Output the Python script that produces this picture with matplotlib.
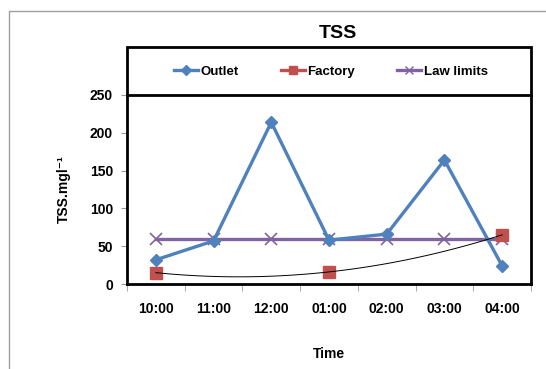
import matplotlib
matplotlib.use("Agg")
import matplotlib.pyplot as plt
from matplotlib.patches import Rectangle
from matplotlib.lines import Line2D
import numpy as np
from matplotlib import font_manager

# sampling times and TSS readings (mg/l)
times = ["10:00", "11:00", "12:00", "01:00", "02:00", "03:00", "04:00"]
outlet = [32, 57, 214, 58, 66, 164, 24]
factory_idx = [0, 3, 6]
factory = [15, 16, 65]
law_limits = [60, 60, 60, 60, 60, 60, 60]

names = {f.name for f in font_manager.fontManager.ttflist}
FONT = "Liberation Sans Narrow" if "Liberation Sans Narrow" in names else "Liberation Sans"
plt.rcParams["font.family"] = [FONT, "DejaVu Sans"]
plt.rcParams["font.weight"] = "bold"
plt.rcParams["axes.labelweight"] = "bold"

C_OUT = "#4F81BD"
C_FAC = "#C0504D"
C_LAW = "#8064A2"

W, H = 546, 369
fig = plt.figure(figsize=(W / 100, H / 100), dpi=100)
ax = fig.add_axes([127 / W, 1 - 284 / H, (531 - 127) / W, (284 - 95) / H])

x = np.arange(len(times))
ax.plot(x, law_limits, color=C_LAW, lw=2.4, marker="x", ms=8, mew=1.2, zorder=3)
ax.plot(x, outlet, color=C_OUT, lw=2.4, marker="D", ms=6, zorder=4)
ax.plot(factory_idx, factory, ls="none", color=C_FAC, marker="s", ms=8, zorder=5)

# second-order trendline through the factory readings
coef = np.polyfit(factory_idx, factory, 2)
xs = np.linspace(factory_idx[0], factory_idx[-1], 100)
ax.plot(xs, np.polyval(coef, xs), color="black", lw=0.7, zorder=6)

ax.set_xlim(-0.5, len(times) - 0.5)
ax.set_ylim(0, 250)
ax.set_yticks([0, 50, 100, 150, 200, 250])
ax.set_xticks(x)
ax.set_xticklabels(times)
ax.set_xticks(np.arange(-0.5, len(times)), minor=True)
ax.tick_params(axis="x", which="major", length=0, pad=13, labelsize=10)
ax.tick_params(axis="x", which="minor", length=5, color="#999999", direction="out")
ax.tick_params(axis="y", length=4, color="#999999", labelsize=10, pad=6)
for s in ("left", "bottom", "right"):
    ax.spines[s].set_linewidth(2)
ax.spines["top"].set_visible(False)

ax.set_xlabel("Time", fontsize=10, labelpad=22)
ax.set_ylabel("TSS.mgl\u207b\u00b9", fontsize=10, labelpad=14)

# legend box sitting on top of the plot area
fig.patches.append(Rectangle((127 / W, 1 - 95 / H), (531 - 127) / W, 48 / H,
                             transform=fig.transFigure, fill=False,
                             edgecolor="black", lw=2))
handles = [
    Line2D([], [], color=C_OUT, lw=2.4, marker="D", ms=5),
    Line2D([], [], color=C_FAC, lw=2.4, marker="s", ms=6),
    Line2D([], [], color=C_LAW, lw=2.4, marker="x", ms=6),
]
fig.legend(handles, ["Outlet", "Factory", "Law limits"], loc="center",
           bbox_to_anchor=(331 / W, 1 - 72 / H), ncol=3, frameon=False,
           fontsize=9.5, handlelength=1.8, handletextpad=0.2, columnspacing=3.2)

fig.text(338 / W, 1 - 33 / H, "TSS", ha="center", va="center", fontsize=14)

# outer chart border
fig.patches.append(Rectangle((9 / W, -0.1), 1.2, 1 - 11 / H + 0.1,
                             transform=fig.transFigure, fill=False,
                             edgecolor="#a0a0a0", lw=1.0))

fig.savefig("out.png", dpi=100)
